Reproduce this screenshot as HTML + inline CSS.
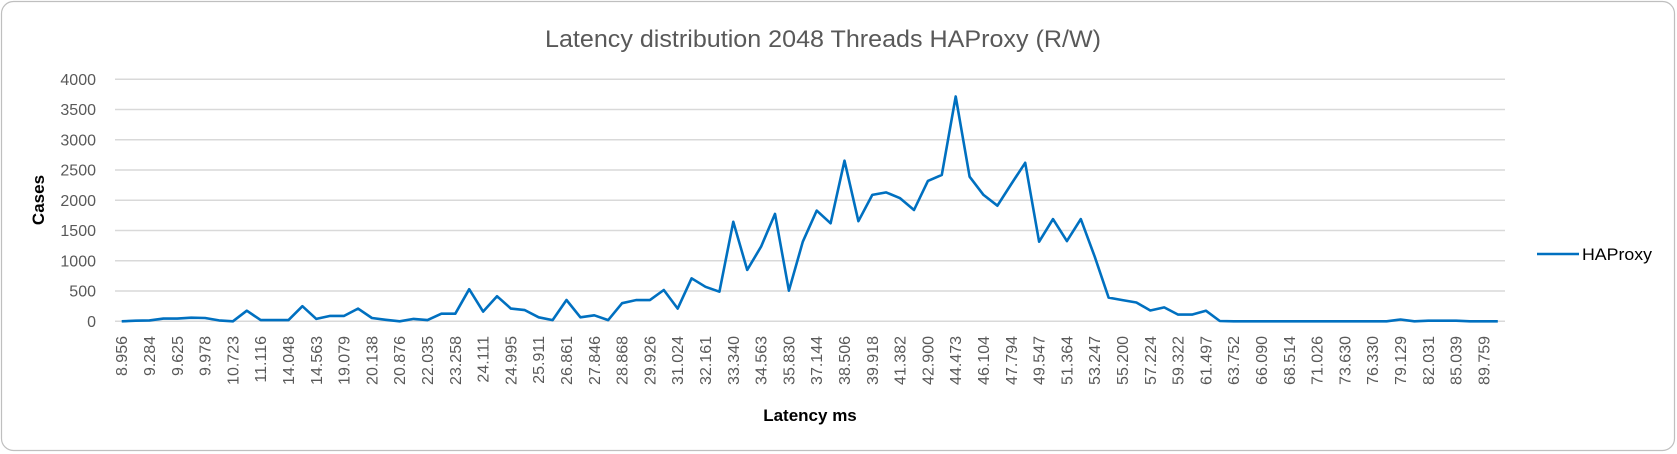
<!DOCTYPE html>
<html><head><meta charset="utf-8"><style>
html,body{margin:0;padding:0;background:#fff;width:1677px;height:454px;overflow:hidden}
svg{display:block;font-family:"Liberation Sans",sans-serif}
</style></head><body>
<svg id="c" width="1677" height="454" viewBox="0 0 1677 454" xmlns="http://www.w3.org/2000/svg">
<rect x="1.5" y="1.5" width="1673" height="449" rx="12" fill="#fff" stroke="#bfbfbf" stroke-width="1.2"/>
<text x="823" y="47" font-size="24" fill="#595959" text-anchor="middle" textLength="556" lengthAdjust="spacingAndGlyphs">Latency distribution 2048 Threads HAProxy (R/W)</text>
<g id="grid" stroke="#d9d9d9" stroke-width="1.5"></g>
<g id="yl" font-size="16" fill="#595959" text-anchor="end"></g>
<g id="xl" font-size="16" fill="#595959" text-anchor="end"></g>
<polyline id="ln" fill="none" stroke="#0070C0" stroke-width="2.6" stroke-linejoin="round"/>
<text x="46" y="200" font-size="17" font-weight="bold" fill="#000" text-anchor="middle" transform="rotate(-90 46 200)" dy="-2">Cases</text>
<text x="810" y="421" font-size="17" font-weight="bold" fill="#000" text-anchor="middle">Latency ms</text>
<line x1="1537" y1="254" x2="1579" y2="254" stroke="#0070C0" stroke-width="2.6"/>
<text x="1582" y="260" font-size="17" fill="#000" textLength="70" lengthAdjust="spacingAndGlyphs">HAProxy</text>
</svg>
<script>
var ns="http://www.w3.org/2000/svg";
function el(p,t,a,txt){var e=document.createElementNS(ns,t);for(var k in a)e.setAttribute(k,a[k]);if(txt!=null)e.textContent=txt;document.getElementById(p).appendChild(e);}
for(var i=0;i<=8;i++){var y=321.3-i*30.25;el("grid","line",{x1:115,x2:1505,y1:y,y2:y});el("yl","text",{x:96,y:y+5.5},String(i*500));}
var labs="8.956 9.284 9.625 9.978 10.723 11.116 14.048 14.563 19.079 20.138 20.876 22.035 23.258 24.111 24.995 25.911 26.861 27.846 28.868 29.926 31.024 32.161 33.340 34.563 35.830 37.144 38.506 39.918 41.382 42.900 44.473 46.104 47.794 49.547 51.364 53.247 55.200 57.224 59.322 61.497 63.752 66.090 68.514 71.026 73.630 76.330 79.129 82.031 85.039 89.759".split(" ");
for(var j=0;j<labs.length;j++){var x=121.7+27.8*j+5.5;el("xl","text",{x:336,y:x,transform:"rotate(-90) translate(-672 0)"},labs[j]);}
var v=[0,10,15,45,45,60,55,15,0,175,20,20,20,250,40,90,90,210,55,25,0,40,20,125,125,530,160,415,210,185,66,20,352,66,100,20,300,350,350,517,210,710,570,490,1645,850,1235,1775,505,1315,1830,1620,2655,1655,2090,2130,2035,1840,2320,2420,3715,2390,2090,1910,2270,2620,1315,1690,1325,1690,1070,392,350,310,178,230,110,110,175,5,0,0,0,0,0,0,0,0,0,0,0,0,30,0,10,10,10,0,0,0];
var pts=[];for(var k=0;k<v.length;k++)pts.push((121.7+13.9*k).toFixed(1)+","+(321.3-v[k]*0.0605).toFixed(1));
document.getElementById("ln").setAttribute("points",pts.join(" "));
</script>
</body></html>
